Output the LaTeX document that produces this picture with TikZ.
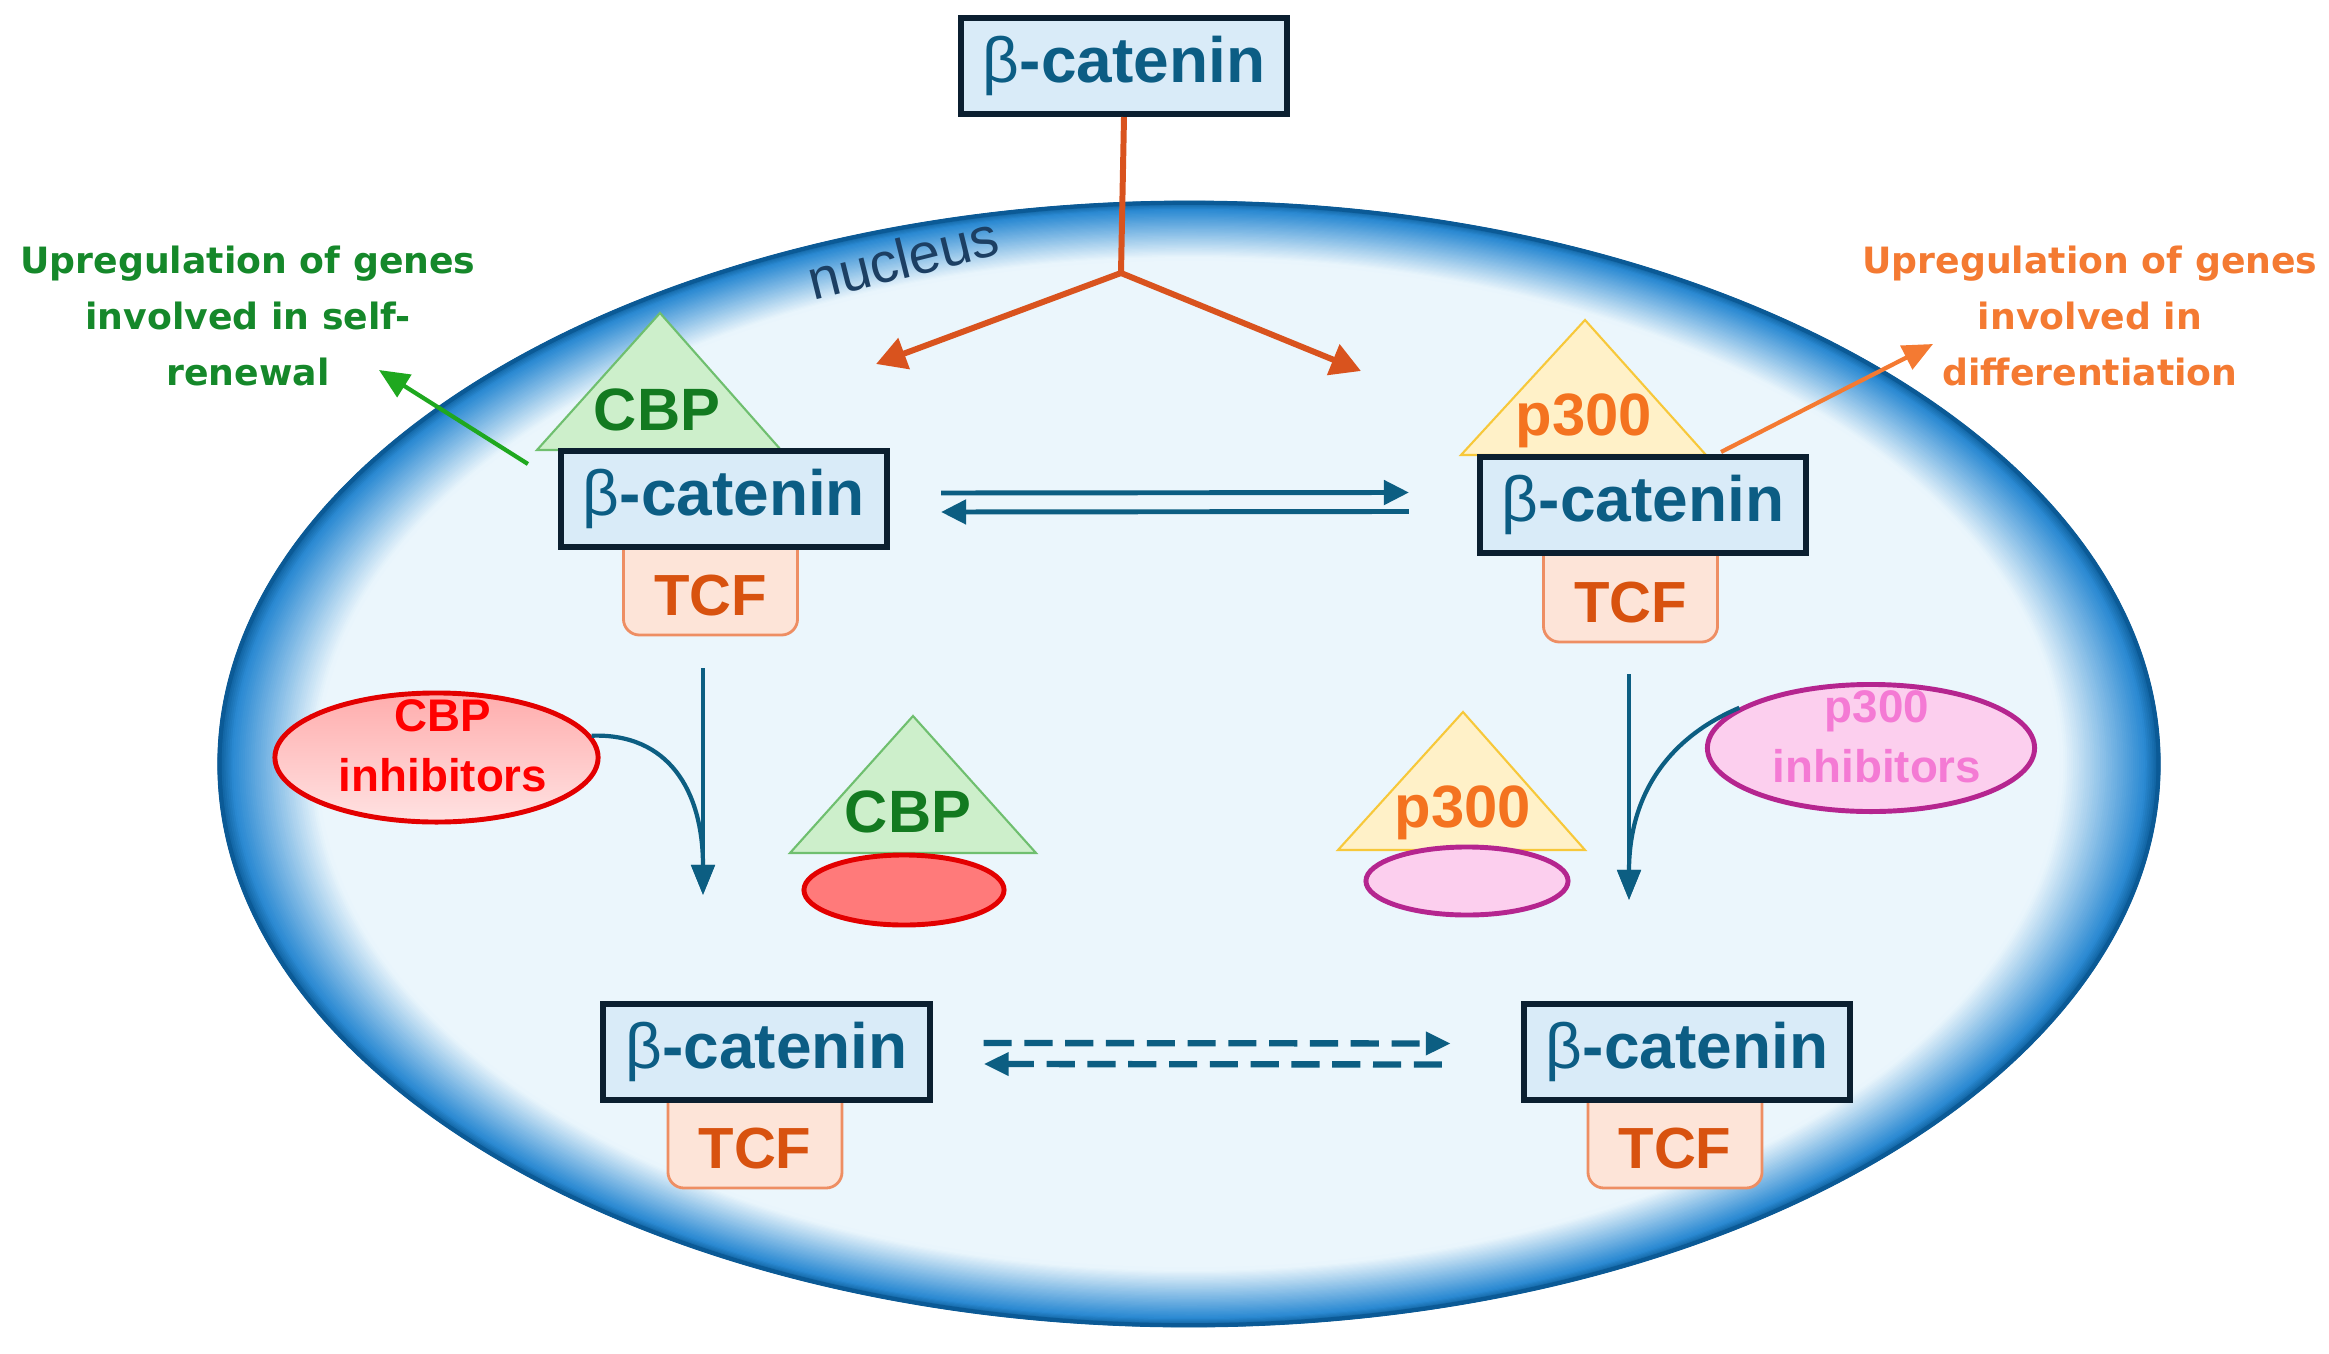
\documentclass[tikz,border=0pt]{standalone}
\usepackage{fontspec}
\setmainfont{Liberation Sans}
\newfontfamily\labfont{DejaVu Sans}
\usetikzlibrary{arrows.meta,calc,shapes.geometric}
\definecolor{nucin}{HTML}{EBF6FC}
\definecolor{nucmid}{HTML}{2B8AD3}
\definecolor{nucdark}{HTML}{0B5A96}
\definecolor{boxfill}{HTML}{D9EBF8}
\definecolor{boxline}{HTML}{0B1F30}
\definecolor{bctext}{HTML}{0C5D84}
\definecolor{tcffill}{HTML}{FDE4D8}
\definecolor{tcfline}{HTML}{EE8E63}
\definecolor{tcftext}{HTML}{D8520F}
\definecolor{cbpfill}{HTML}{CDEFCB}
\definecolor{cbpline}{HTML}{6FBF6F}
\definecolor{cbptext}{HTML}{137A20}
\definecolor{pfill}{HTML}{FFF1C8}
\definecolor{pline}{HTML}{F7C83A}
\definecolor{ptext}{HTML}{F47320}
\definecolor{arrblue}{HTML}{0C5E82}
\definecolor{forkor}{HTML}{D9531E}
\definecolor{garrow}{HTML}{1FA81F}
\definecolor{glabel}{HTML}{15882A}
\definecolor{olabel}{HTML}{F47A32}
\definecolor{redline}{HTML}{E30000}
\definecolor{redtop}{HTML}{FFADAD}
\definecolor{redbot}{HTML}{FFE2E2}
\definecolor{redtext}{HTML}{FF0000}
\definecolor{redfill}{HTML}{FF7A7A}
\definecolor{pinkfill}{HTML}{FCCFEE}
\definecolor{magline}{HTML}{B5258F}
\definecolor{pinktext}{HTML}{F47AD4}
\definecolor{nuctext}{HTML}{1C3F63}
\begin{document}
\begin{tikzpicture}[x=0.01cm,y=-0.01cm,
  bcat/.style={draw=boxline, line width=1.7pt, fill=boxfill, text=bctext,
    font=\bfseries\fontsize{18.2}{20}\selectfont, minimum width=3.26cm,
    inner sep=0pt, text height=0.64cm, text depth=0.32cm, anchor=base},
  tcfbox/.style={draw=tcfline, line width=0.8pt, fill=tcffill, rounded corners=0.16cm,
    text=tcftext, font=\bfseries\fontsize{16.5}{18}\selectfont, minimum width=1.74cm,
    inner sep=0pt, text height=0.9cm, text depth=0.2cm, anchor=base},
  tritxt/.style={font=\bfseries\fontsize{17}{19}\selectfont, anchor=base, inner sep=0pt},
  inhtxt/.style={font=\bfseries\fontsize{13}{17}\selectfont, align=center, inner sep=0pt},
  labtxt/.style={font=\labfont\bfseries\fontsize{10.3}{15.8}\selectfont, align=center, inner sep=0pt},
  fork/.style={draw=forkor, line width=1.7pt},
  forkarr/.style={fork, -{Triangle[length=0.3cm,width=0.32cm]}},
  bluearr/.style={draw=arrblue, line width=1.4pt, -{Triangle[length=0.25cm,width=0.24cm]}},
  downarr/.style={draw=arrblue, line width=1.2pt, -{Triangle[length=0.3cm,width=0.23cm]}},
  dasharr/.style={draw=arrblue, line width=1.8pt, dash pattern=on 8pt off 3.6pt, -{Triangle[length=0.25cm,width=0.22cm]}},
  outarr/.style={line width=1.2pt, -{Triangle[length=0.3cm,width=0.26cm]}}
]
\useasboundingbox[fill=white] (0,0) rectangle (2329,1354);
% nucleus with shaded rim
\fill[nucin] (1189,764) ellipse [x radius=9.69cm, y radius=5.61cm];
\foreach \i in {0,...,50}{
  \pgfmathsetmacro\f{\i/50}
  \pgfmathsetmacro\rx{9.69*(1-0.1*\f)}
  \pgfmathsetmacro\ry{5.61*(1-0.1*\f)}
  \pgfmathtruncatemacro\p{ifthenelse(\f<0.15, 100*\f/0.15, 100)}
  \pgfmathtruncatemacro\q{ifthenelse(\f<0.15, 0, 100*(\f-0.15)/0.85)}
  \colorlet{bandA}{nucmid!\p!nucdark}
  \colorlet{bandc}{nucin!\q!bandA}
  \draw[bandc, line width=1pt] (1189,764) ellipse [x radius=\rx cm, y radius=\ry cm];
}
\draw[nucdark, line width=1.2pt] (1189,764) ellipse [x radius=9.69cm, y radius=5.61cm];
\node[text=nuctext, font=\fontsize{16}{18}\selectfont, rotate=14, inner sep=0pt] (nuc) at (903,258) {nucleus};

% top beta-catenin and fork
\node[bcat] (topbox) at (1124,82) {{\mdseries β}-catenin};
\coordinate (fork) at (1121,273);
\coordinate (forkL) at (876,364);
\coordinate (forkR) at (1361,371);
\draw[fork] (topbox.south) -- (fork);
\draw[forkarr] (fork) -- (forkL);
\draw[forkarr] (fork) -- (forkR);

% labels
\node[labtxt, text=glabel] (glab) at (248,316) {Upregulation of genes\\involved in self-\\renewal};
\node[labtxt, text=olabel] (olab) at (2090,316) {Upregulation of genes\\involved in\\differentiation};

% upper left complex
\node[tcfbox] (tcf1) at (710.5,615) {TCF};
\filldraw[fill=cbpfill, draw=cbpline, line width=0.6pt] (660,313) -- (781,450) -- (537,450) -- cycle;
\node[tritxt, text=cbptext] (cbp1) at (657,430) {CBP};
\node[bcat] (lbox) at (724,515) {{\mdseries β}-catenin};

% upper right complex
\node[tcfbox] (tcf2) at (1630.5,622) {TCF};
\filldraw[fill=pfill, draw=pline, line width=0.6pt] (1585,320) -- (1706,455) -- (1461,455) -- cycle;
\node[tritxt, text=ptext] (p1) at (1584,435) {p300};
\node[bcat] (rbox) at (1643,521) {{\mdseries β}-catenin};

% outgoing arrows
\coordinate (gtip) at (379,370);
\coordinate (otip) at (1933,344);
\draw[outarr, draw=garrow] ($(lbox.north west)+(-30,16)$) -- (gtip);
\draw[outarr, draw=olabel] ($(rbox.north east)+(-88,-2)$) -- (otip);

% solid double arrow
\draw[bluearr] ($(lbox.east)+(51,-6)$) -- ($(rbox.west)+(-68,-12.5)$);
\draw[bluearr] ($(rbox.west)+(-68,6.5)$) -- ($(lbox.east)+(51,13)$);

% down arrows
\coordinate (ldtip) at (703,895);
\coordinate (rdtip) at (1629,900);
\draw[downarr] ($(tcf1.south)+(-7.5,32)$) -- (ldtip);
\draw[downarr] ($(tcf2.south)+(-1.5,31)$) -- (rdtip);

% CBP inhibitors
\node[ellipse, draw=redline, line width=1.4pt, top color=redtop, bottom color=redbot,
  minimum width=3.23cm, minimum height=1.29cm, inner sep=0pt] (cbpinh) at (436.5,757.5) {};
\node[inhtxt, text=redtext] (cbpinhtxt) at (443,746) {CBP\\inhibitors};
\draw[downarr] (cbpinh.8) .. controls (668,733) and (703,790) .. (ldtip);

% lower CBP with bound inhibitor
\filldraw[fill=cbpfill, draw=cbpline, line width=0.6pt] (913,716) -- (1036,853) -- (790,853) -- cycle;
\node[tritxt, text=cbptext] (cbp2) at (908,832) {CBP};
\node[ellipse, draw=redline, line width=1.4pt, fill=redfill,
  minimum width=2.0cm, minimum height=0.7cm, inner sep=0pt] (redell) at (904,890) {};

% p300 inhibitors
\node[ellipse, draw=magline, line width=1.4pt, fill=pinkfill,
  minimum width=3.27cm, minimum height=1.27cm, inner sep=0pt] (p3inh) at (1871,748) {};
\node[inhtxt, text=pinktext] (p3inhtxt) at (1877,737) {p300\\inhibitors};
\draw[downarr] (p3inh.163) .. controls (1668,738) and (1629,795) .. (rdtip);

% lower p300 with bound inhibitor
\filldraw[fill=pfill, draw=pline, line width=0.6pt] (1463,712) -- (1585,850) -- (1338,850) -- cycle;
\node[tritxt, text=ptext] (p2) at (1463,827) {p300};
\node[ellipse, draw=magline, line width=1.4pt, fill=pinkfill,
  minimum width=2.02cm, minimum height=0.68cm, inner sep=0pt] (pinkell) at (1467,881) {};

% lower complexes
\node[tcfbox] (tcf3) at (755,1168) {TCF};
\node[bcat] (llbox) at (766.5,1068) {{\mdseries β}-catenin};
\node[tcfbox] (tcf4) at (1675,1168) {TCF};
\node[bcat] (rlbox) at (1687,1068) {{\mdseries β}-catenin};

% dashed double arrow
\draw[dasharr] ($(llbox.east)+(51,-9)$) -- ($(rlbox.west)+(-70,-8.5)$);
\draw[dasharr] ($(rlbox.west)+(-79,12.5)$) -- ($(llbox.east)+(51,12)$);
\end{tikzpicture}
\end{document}
